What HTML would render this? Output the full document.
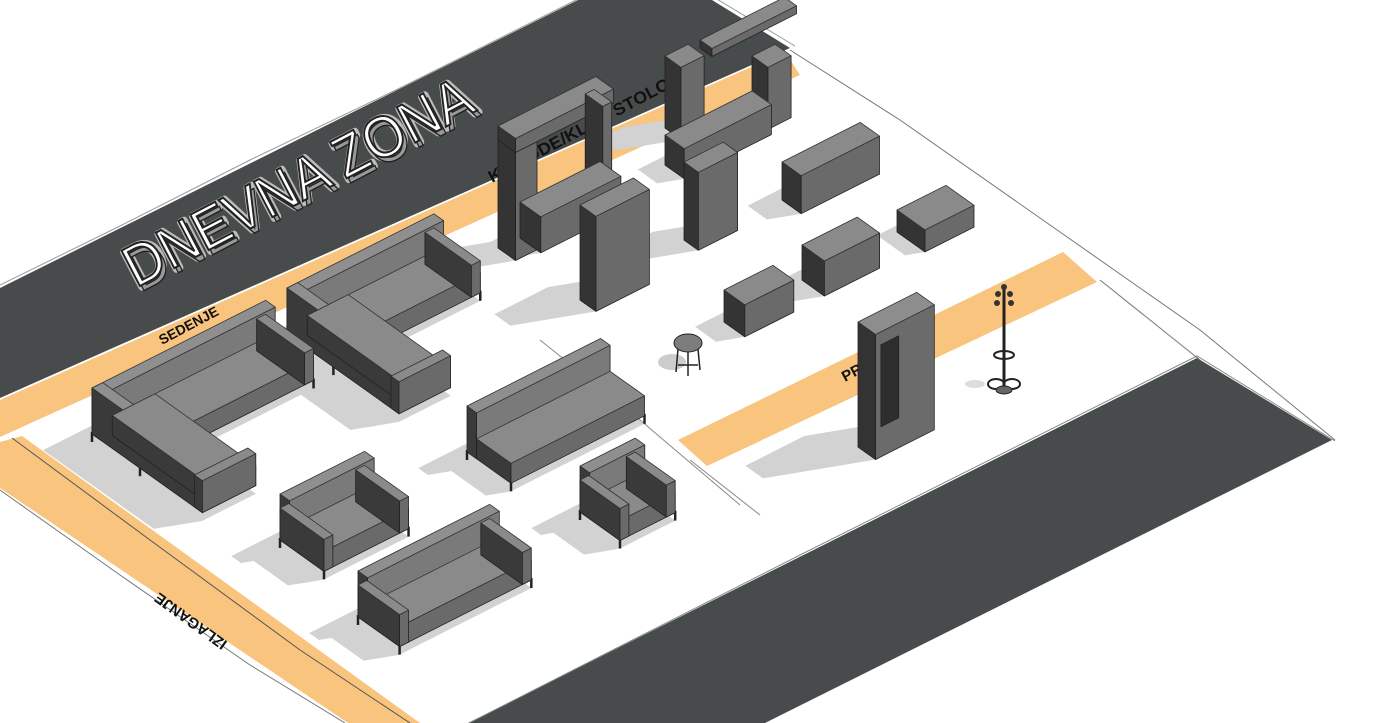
<!DOCTYPE html>
<html><head><meta charset="utf-8">
<style>
html,body{margin:0;padding:0;background:#fff;}
svg{display:block;}
text{font-family:"Liberation Sans",sans-serif;}
</style></head>
<body>
<svg id="s" width="1380" height="723" viewBox="0 0 1380 723" xmlns="http://www.w3.org/2000/svg">
<rect width="1380" height="723" fill="#fff"/>
<polygon points="0,288 578,0 712,0 790,48 0,398" fill="#474b4b"/>
<polyline points="0,285 120,226 250,160 400,88 580,-2 715,-2 795,46" fill="none" stroke="#999" stroke-width="1"/>
<polygon points="0,400 785,52 800,75 0,437" fill="#f8c47e"/>
<polygon points="0,442 22,436 420,723 348,723 0,488" fill="#f8c47e"/>
<polyline points="12,438 150,540 300,650 410,723" fill="none" stroke="#555" stroke-width="1"/>
<polyline points="0,490 120,575 250,665 345,723" fill="none" stroke="#777" stroke-width="1"/>
<polygon points="678,440 1063,252 1097,282 707,466" fill="#f8c47e"/>
<polygon points="468,723 1197,358 1332,440 765,723" fill="#474b4b"/>
<polyline points="465,725 800,555 1197,356 1335,441" fill="none" stroke="#888" stroke-width="1"/>
<polyline points="790,50 900,120 1050,225 1200,330 1335,440" fill="none" stroke="#777" stroke-width="1"/>
<polyline points="540,340 640,420 740,505" fill="none" stroke="#888" stroke-width="1"/>
<polyline points="1100,280 1200,360" fill="none" stroke="#777" stroke-width="1"/>
<polyline points="690,460 760,515" fill="none" stroke="#888" stroke-width="1"/>
<g transform="translate(136,288) rotate(-27.5)">
<text x="1" y="2" font-size="58" fill="#bbb" stroke="#bbb" stroke-width="7" stroke-linejoin="round" textLength="385" lengthAdjust="spacingAndGlyphs">DNEVNA ZONA</text>
<text x="1.5" y="6" font-size="58" fill="#999" stroke="#222" stroke-width="1.4" textLength="385" lengthAdjust="spacingAndGlyphs">DNEVNA ZONA</text>
<text x="0" y="0" font-size="58" fill="#fff" stroke="#222" stroke-width="2" textLength="385" lengthAdjust="spacingAndGlyphs">DNEVNA ZONA</text>
</g>
<text transform="translate(162,345) rotate(-28)" font-size="14" font-weight="bold" fill="#111">SEDENJE</text>
<text transform="translate(492,183) rotate(-28)" font-size="17" font-weight="bold" fill="#111" textLength="220" lengthAdjust="spacingAndGlyphs">KOMODE/KLUB STOLOVI</text>
<text transform="translate(228,642) rotate(216)" font-size="15" font-weight="bold" fill="#111">IZLAGANJE</text>
<text transform="translate(845,382) rotate(-28)" font-size="15" font-weight="bold" fill="#111">PR</text>
<g id="sh"></g>
<g id="fu"></g>
</svg>
<script>
var U=[0.89,-0.45],V=[0.8,0.57];
var NS="http://www.w3.org/2000/svg";
function P(p){return p.map(function(q){return q[0].toFixed(1)+","+q[1].toFixed(1)}).join(" ");}
function poly(g,pts,fill,stroke){var e=document.createElementNS(NS,"polygon");e.setAttribute("points",P(pts));e.setAttribute("fill",fill);if(stroke){e.setAttribute("stroke",stroke);e.setAttribute("stroke-width","0.8");e.setAttribute("stroke-linejoin","round");}document.getElementById(g).appendChild(e);}
function pt(o,a,b,z){return [o[0]+a*U[0]+b*V[0],o[1]+a*U[1]+b*V[1]-z];}
function box(o,a,b,z,h,c,noShadow){
  c=c||{};var top=c.t||"#8e8e8e",fv=c.f||"#6f6f6f",lu=c.l||"#3d3d3d";
  var b0=pt(o,0,0,z),b1=pt(o,a,0,z),b2=pt(o,a,b,z),b3=pt(o,0,b,z);
  var t0=pt(o,0,0,z+h),t1=pt(o,a,0,z+h),t2=pt(o,a,b,z+h),t3=pt(o,0,b,z+h);
  if(!noShadow){
    var H=z+h,s=[-0.9*H,0.15*H];
    var g0=pt(o,0,0,0),g1=pt(o,a,0,0),g2=pt(o,a,b,0),g3=pt(o,0,b,0);
    var G=[g0,g1,g2,g3],S=G.map(function(q){return [q[0]+s[0],q[1]+s[1]]});
    for(var i=0;i<4;i++){var j=(i+1)%4;poly("sh",[G[i],G[j],S[j],S[i]],"#d2d2d2");}
    poly("sh",S,"#d2d2d2");
  }
  poly("fu",[b0,b3,t3,t0],lu,"#222");
  poly("fu",[b3,b2,t2,t3],fv,"#222");
  poly("fu",[t0,t1,t2,t3],top,"#333");
}
function line(p,L){var e=document.createElementNS(NS,"line");e.setAttribute("x1",p[0]);e.setAttribute("y1",p[1]-L);e.setAttribute("x2",p[0]);e.setAttribute("y2",p[1]);e.setAttribute("stroke","#222");e.setAttribute("stroke-width","2.5");document.getElementById("fu").appendChild(e);}
function legs(o,a,b,L){[[0,b],[a,b],[0,0]].forEach(function(q){line(pt(o,q[0],q[1],0),L);});}
var sofaC={t:"#8a8a8a",f:"#6a6a6a",l:"#3a3a3a"};
var backC={t:"#8f8f8f",f:"#7a7a7a",l:"#3a3a3a"};
var cabC={t:"#8a8a8a",f:"#6a6a6a",l:"#343434"};
function lsofa(o,a,b,d){
  legs(o,a,d,10);
  box(o,a,12,8,46,backC);
  box(o,12,b,8,46,backC);
  box(pt(o,12,12,0),a-12,d-12,8,20,sofaC);
  box(pt(o,12,12,0),d-12,b-12,8,20,sofaC);
  box(pt(o,a-10,0,0),10,d,8,32,sofaC);
  box(pt(o,0,b-10,0),d,10,8,32,sofaC);
}
function sofa(o,a,b,arms){
  legs(o,a,b,10);
  box(o,a,12,8,46,backC);
  box(pt(o,0,12,0),a,b-12,8,20,sofaC);
  if(arms){box(o,10,b,8,32,sofaC);box(pt(o,a-10,0,0),10,b,8,32,sofaC);}
}
box([700,48],95,15,0,8,cabC,true);
box([665,128],26,20,0,72,cabC);
box([752,118],26,20,0,62,cabC);
box([665,165],98,24,0,30,cabC);
box([498,248],24,22,0,122,cabC);
box([498,248],110,22,108,14,cabC,true);
box(pt([498,248],98,0,0),10,22,0,110,cabC,true);
box([520,238],90,26,0,36,cabC);
box([782,200],88,24,0,38,cabC);
box([684,240],44,18,0,78,cabC);
box([580,300],60,20,0,95,cabC);
box([897,232],55,35,0,22,cabC);
box([802,280],62,28,0,35,cabC);
box([724,322],55,26,0,32,cabC);
lsofa([287,342],165,140,58);
lsofa([92,442],195,138,60);
sofa([467,460],150,55,false);
sofa([280,548],95,55,true);
sofa([580,520],62,50,true);
sofa([358,625],148,52,true);
var wo=[858,447];
box(wo,66,22,0,125,{t:"#8d8d8d",f:"#6b6b6b",l:"#333"});
poly("fu",[pt(wo,6,22,30),pt(wo,26,22,30),pt(wo,26,22,112),pt(wo,6,22,112)],"#2e2e2e","#222");
(function(){var g=document.getElementById("fu");
 g.insertAdjacentHTML("beforeend",
 '<ellipse cx="672" cy="362" rx="14" ry="8" fill="#ccc"/>'+
 '<ellipse cx="688" cy="343" rx="14" ry="9" fill="#7d7d7d" stroke="#222"/>'+
 '<path d="M678,349 L676,372 M698,349 L700,370 M688,352 L688,376 M678,365 L698,365" stroke="#222" stroke-width="1.5" fill="none"/>'+
 '<line x1="1004" y1="288" x2="1004" y2="392" stroke="#222" stroke-width="3"/>'+
 '<circle cx="998" cy="294" r="3" fill="#333"/><circle cx="1010" cy="294" r="3" fill="#333"/><circle cx="997" cy="303" r="3" fill="#333"/><circle cx="1011" cy="303" r="3" fill="#333"/><circle cx="1004" cy="287" r="3" fill="#333"/>'+
 '<ellipse cx="1004" cy="355" rx="10" ry="4" fill="none" stroke="#222" stroke-width="2"/>'+
 '<ellipse cx="996" cy="384" rx="8" ry="5" fill="none" stroke="#222" stroke-width="2"/><ellipse cx="1012" cy="384" rx="8" ry="5" fill="none" stroke="#222" stroke-width="2"/><ellipse cx="1004" cy="390" rx="8" ry="4" fill="#666" stroke="#222"/>'+
 '<ellipse cx="975" cy="384" rx="10" ry="4" fill="#ddd"/>');
})();
</script>
</body></html>
